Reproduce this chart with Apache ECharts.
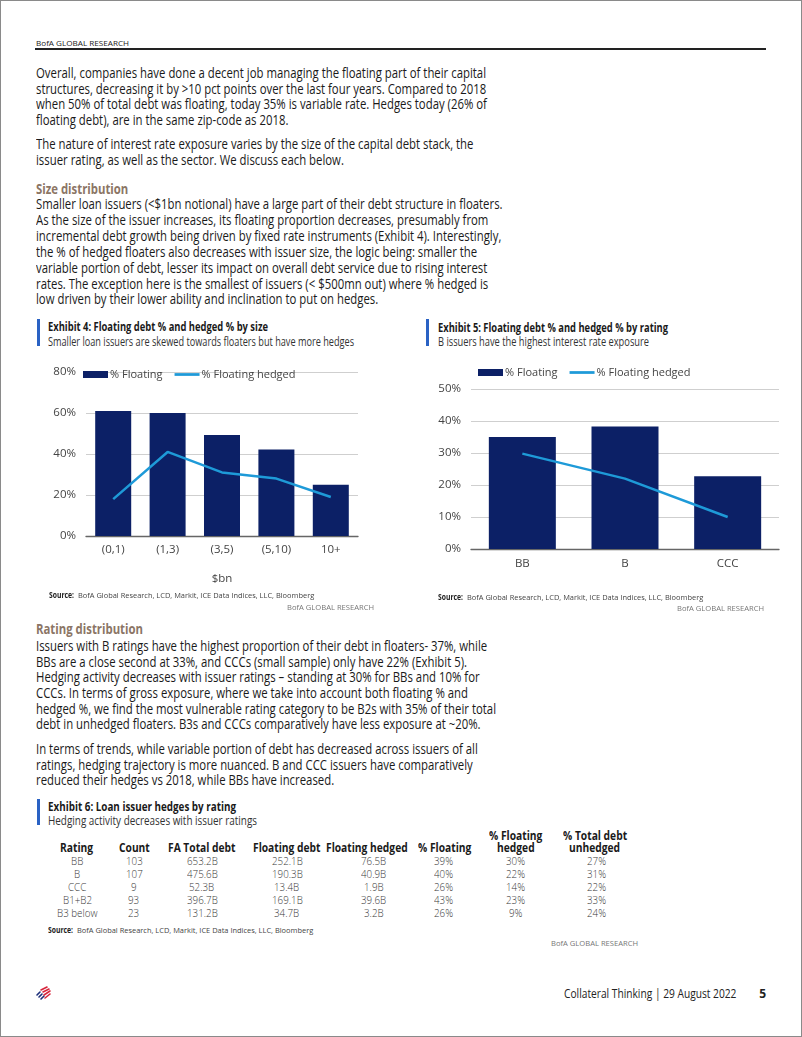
<!DOCTYPE html>
<html><head><meta charset="utf-8">
<script src="https://cdn.jsdelivr.net/npm/echarts@6/dist/echarts.min.js"></script>
<style>
html,body{margin:0;padding:0;background:#fff;}
#page{position:relative;width:802px;height:1037px;box-sizing:border-box;border:1px solid #8a8a8a;overflow:hidden;background:#fff;}
.t{position:absolute;white-space:nowrap;transform-origin:0 50%;}
</style></head><body><div id="page">
<div id="c1" style="position:absolute;left:30px;top:355px;width:340px;height:240px"></div>
<div id="c2" style="position:absolute;left:420px;top:355px;width:370px;height:245px"></div>
</div>
<script>
// ---- Chart data ----
const sizeCategories = ['(0,1)', '(1,3)', '(3,5)', '(5,10)', '10+'];
const sizeFloating = [61, 60, 49.3, 42.2, 25];
const sizeHedged = [18, 41, 31, 28, 19];
const sizeTicks = [0, 20, 40, 60, 80];

const ratingCategories = ['BB', 'B', 'CCC'];
const ratingFloating = [35, 38.3, 22.7];
const ratingHedged = [29.8, 22, 10];
const ratingTicks = [0, 10, 20, 30, 40, 50];

// ---- Table data (Exhibit 6) ----
const tblRating = ['BB', 'B', 'CCC', 'B1+B2', 'B3 below'];
const tblCount = [103, 107, 9, 93, 23];
const tblFaTotal = [653.2, 475.6, 52.3, 396.7, 131.2];
const tblFloatDebt = [252.1, 190.3, 13.4, 169.1, 34.7];
const tblFloatHedged = [76.5, 40.9, 1.9, 39.6, 3.2];
const tblPctFloat = [39, 40, 26, 43, 26];
const tblPctHedged = [30, 22, 14, 23, 9];
const tblPctUnhedged = [27, 31, 22, 33, 24];

const NAVY = '#0c2066';
const LBLUE = '#1e9ad8';
const FF = '"Open Sans", "Noto Sans", sans-serif';

const page = document.getElementById('page');
const cv = document.createElement('canvas').getContext('2d');
function txt(str, x, y, o) {
  o = o || {};
  const size = o.size || 14, weight = o.weight || 400;
  const font = weight + ' ' + size + 'px ' + FF;
  cv.font = font;
  const w = cv.measureText(str).width;
  const s = o.width ? o.width / w : (o.scale || 1);
  const sw = w * s;
  let left = x;
  if (o.align === 'center') left = x - sw / 2;
  else if (o.align === 'right') left = x - sw;
  const el = document.createElement('div');
  el.className = 't';
  el.textContent = str;
  el.style.font = font;
  el.style.lineHeight = (size * 1.4) + 'px';
  el.style.left = left + 'px';
  el.style.top = (y - size * 0.7) + 'px';
  el.style.color = o.color || '#1a1a1a';
  el.style.transform = 'scaleX(' + s + ')';
  page.appendChild(el);
  return sw;
}
function box(x, y, w, h, c) {
  const d = document.createElement('div');
  d.style.cssText = 'position:absolute;left:' + x + 'px;top:' + y + 'px;width:' + w + 'px;height:' + h + 'px;background:' + c;
  page.appendChild(d);
}

// header
txt('BofA GLOBAL RESEARCH', 35, 42, {size: 8, weight: 400, width: 93, color: '#222'});
box(34, 47, 731, 1.5, '#222');

// body text
cv.font = '400 14px ' + FF;
const bodyScale = 450 / cv.measureText('Overall, companies have done a decent job managing the floating part of their capital').width;
const bodyLines = [
  [72, 'Overall, companies have done a decent job managing the floating part of their capital'],
  [87.5, 'structures, decreasing it by >10 pct points over the last four years. Compared to 2018'],
  [103, 'when 50% of total debt was floating, today 35% is variable rate. Hedges today (26% of'],
  [118.5, 'floating debt), are in the same zip-code as 2018.'],
  [143, 'The nature of interest rate exposure varies by the size of the capital debt stack, the'],
  [159, 'issuer rating, as well as the sector. We discuss each below.'],
  [203, 'Smaller loan issuers (<$1bn notional) have a large part of their debt structure in floaters.'],
  [219, 'As the size of the issuer increases, its floating proportion decreases, presumably from'],
  [235, 'incremental debt growth being driven by fixed rate instruments (Exhibit 4). Interestingly,'],
  [251, 'the % of hedged floaters also decreases with issuer size, the logic being: smaller the'],
  [267, 'variable portion of debt, lesser its impact on overall debt service due to rising interest'],
  [283, 'rates. The exception here is the smallest of issuers (< $500mn out) where % hedged is'],
  [298, 'low driven by their lower ability and inclination to put on hedges.'],
  [645, 'Issuers with B ratings have the highest proportion of their debt in floaters- 37%, while'],
  [661, 'BBs are a close second at 33%, and CCCs (small sample) only have 22% (Exhibit 5).'],
  [676, 'Hedging activity decreases with issuer ratings \u2013 standing at 30% for BBs and 10% for'],
  [692, 'CCCs. In terms of gross exposure, where we take into account both floating % and'],
  [708, 'hedged %, we find the most vulnerable rating category to be B2s with 35% of their total'],
  [723, 'debt in unhedged floaters. B3s and CCCs comparatively have less exposure at ~20%.'],
  [748, 'In terms of trends, while variable portion of debt has decreased across issuers of all'],
  [764, 'ratings, hedging trajectory is more nuanced. B and CCC issuers have comparatively'],
  [779, 'reduced their hedges vs 2018, while BBs have increased.']
];
bodyLines.forEach(l => txt(l[1], 35, l[0], {size: 14, scale: bodyScale}));
txt('Size distribution', 35, 188, {size: 14, weight: 700, scale: bodyScale, color: '#8b7565'});
txt('Rating distribution', 35, 628, {size: 14, weight: 700, scale: bodyScale, color: '#8b7565'});

// exhibit titles
const EXB = '#2a62c4';
box(36, 318, 3, 27, EXB);
txt('Exhibit 4: Floating debt % and hedged % by size', 47, 326, {size: 12, weight: 700, width: 220});
txt('Smaller loan issuers are skewed towards floaters but have more hedges', 47, 341, {size: 12, width: 306, color: '#333'});
box(425, 318, 3, 27, EXB);
txt('Exhibit 5: Floating debt % and hedged % by rating', 437, 327, {size: 12, weight: 700, width: 230});
txt('B issuers have the highest interest rate exposure', 437, 341, {size: 12, width: 211, color: '#333'});
box(36, 798, 3, 26, EXB);
txt('Exhibit 6: Loan issuer hedges by rating', 47, 806, {size: 12, weight: 700, width: 188});
txt('Hedging activity decreases with issuer ratings', 47, 820.5, {size: 12, width: 209, color: '#333'});

// sources
function source(x, y, rx, ry) {
  const w = txt('Source:', x, y, {size: 8, weight: 700, scale: 0.85, color: '#222'});
  txt('BofA Global Research, LCD, Markit, ICE Data Indices, LLC, Bloomberg', x + w + 4, y, {size: 8, scale: 0.93, color: '#444'});
  txt('BofA GLOBAL RESEARCH', rx, ry, {size: 8, scale: 0.95, color: '#777', align: 'right'});
}
source(48, 594, 373, 606);
source(437, 596, 763, 607);
source(47, 929, 637, 942);

// table
const colHead = [
  [76, ['Rating']], [133, ['Count']], [201, ['FA Total debt']], [286, ['Floating debt']],
  [366, ['Floating hedged']], [444, ['% Floating']], [515, ['% Floating', 'hedged']], [594, ['% Total debt', 'unhedged']]
];
const hs = 0.82;
colHead.forEach(c => {
  if (c[1].length === 1) txt(c[1][0], c[0], 847, {size: 12.5, weight: 700, scale: hs, align: 'center'});
  else {
    txt(c[1][0], c[0], 834.5, {size: 12.5, weight: 700, scale: hs, align: 'center'});
    txt(c[1][1], c[0], 847, {size: 12.5, weight: 700, scale: hs, align: 'center'});
  }
});
const rowY = [860, 873, 886, 899, 912];
const colVals = [
  [76, tblRating.map(v => v)],
  [133, tblCount.map(v => String(v))],
  [201, tblFaTotal.map(v => v.toFixed(1) + 'B')],
  [286, tblFloatDebt.map(v => v.toFixed(1) + 'B')],
  [373, tblFloatHedged.map(v => v.toFixed(1) + 'B')],
  [443, tblPctFloat.map(v => v + '%')],
  [515, tblPctHedged.map(v => v + '%')],
  [596, tblPctUnhedged.map(v => v + '%')]
];
colVals.forEach(c => c[1].forEach((s, i) => txt(s, c[0], rowY[i], {size: 11.5, weight: 300, scale: 0.85, align: 'center', color: '#3a3a3a'})));

// footer
txt('Collateral Thinking | 29 August 2022', 735, 993, {size: 12, scale: 0.85, align: 'right', color: '#222'});
txt('5', 765, 993, {size: 12, weight: 700, align: 'right', color: '#222'});
const logo = document.createElementNS('http://www.w3.org/2000/svg', 'svg');
logo.setAttribute('width', '18'); logo.setAttribute('height', '18');
logo.style.cssText = 'position:absolute;left:33px;top:983px';
logo.innerHTML =
  '<g stroke-width="1.6" stroke-linecap="round">' +
  '<line x1="3" y1="11" x2="6" y2="8" stroke="#1d2f7a"/>' +
  '<line x1="5" y1="13" x2="8" y2="10" stroke="#1d2f7a"/>' +
  '<line x1="7" y1="15" x2="10" y2="12" stroke="#1d2f7a"/>' +
  '<line x1="7" y1="6" x2="13" y2="3" stroke="#d7263d"/>' +
  '<line x1="9" y1="8" x2="15" y2="5" stroke="#d7263d"/>' +
  '<line x1="10" y1="11" x2="16" y2="7" stroke="#d7263d"/>' +
  '<line x1="11" y1="14" x2="16" y2="10" stroke="#d7263d"/>' +
  '</g>';
page.appendChild(logo);

// ---- charts ----
const axisText = {color: '#444', fontSize: 11.5, fontFamily: FF};
function makeChart(el, cats, bars, line, ticks, g, legendPos, barW, xMargin, xName) {
  const c = echarts.init(document.getElementById(el), null, {renderer: 'canvas'});
  c.setOption({
    animation: false,
    textStyle: {fontFamily: FF},
    legend: {
      left: legendPos[0], top: legendPos[1], padding: 0, itemGap: 12,
      itemWidth: 25, itemHeight: 7,
      textStyle: {color: '#444', fontSize: 11, fontFamily: FF, padding: [0, 0, 0, -3]},
      data: [
        {name: '% Floating', icon: 'rect'},
        {name: '% Floating hedged', icon: 'path://M0,0L100,0L100,11L0,11Z', itemStyle: {color: LBLUE}}
      ]
    },
    grid: g,
    xAxis: {
      type: 'category', data: cats,
      axisTick: {show: false},
      axisLine: {lineStyle: {color: '#666', width: 1.3}},
      axisLabel: Object.assign({margin: xMargin}, axisText),
      name: xName, nameLocation: 'middle', nameGap: 37,
      nameTextStyle: axisText
    },
    yAxis: {
      type: 'value', min: ticks[0], max: ticks[ticks.length - 1],
      interval: ticks[1] - ticks[0],
      axisLine: {show: false}, axisTick: {show: false},
      axisLabel: Object.assign({margin: 10, formatter: '{value}%'}, axisText),
      splitLine: {lineStyle: {color: '#cfcfcf', width: 1}}
    },
    series: [
      {name: '% Floating', type: 'bar', data: bars, barWidth: barW, itemStyle: {color: NAVY}},
      {name: '% Floating hedged', type: 'line', data: line, symbol: 'none',
       lineStyle: {color: LBLUE, width: 2.5}, itemStyle: {color: LBLUE}}
    ]
  });
}
makeChart('c1', sizeCategories, sizeFloating, sizeHedged, sizeTicks,
  {left: 55, right: 13, top: 16, bottom: 60}, [52, 13], 36, 8, '$bn');
makeChart('c2', ratingCategories, ratingFloating, ratingHedged, ratingTicks,
  {left: 50, right: 12, top: 33, bottom: 52}, [57, 11], 67, 9, '');
</script></body></html>
